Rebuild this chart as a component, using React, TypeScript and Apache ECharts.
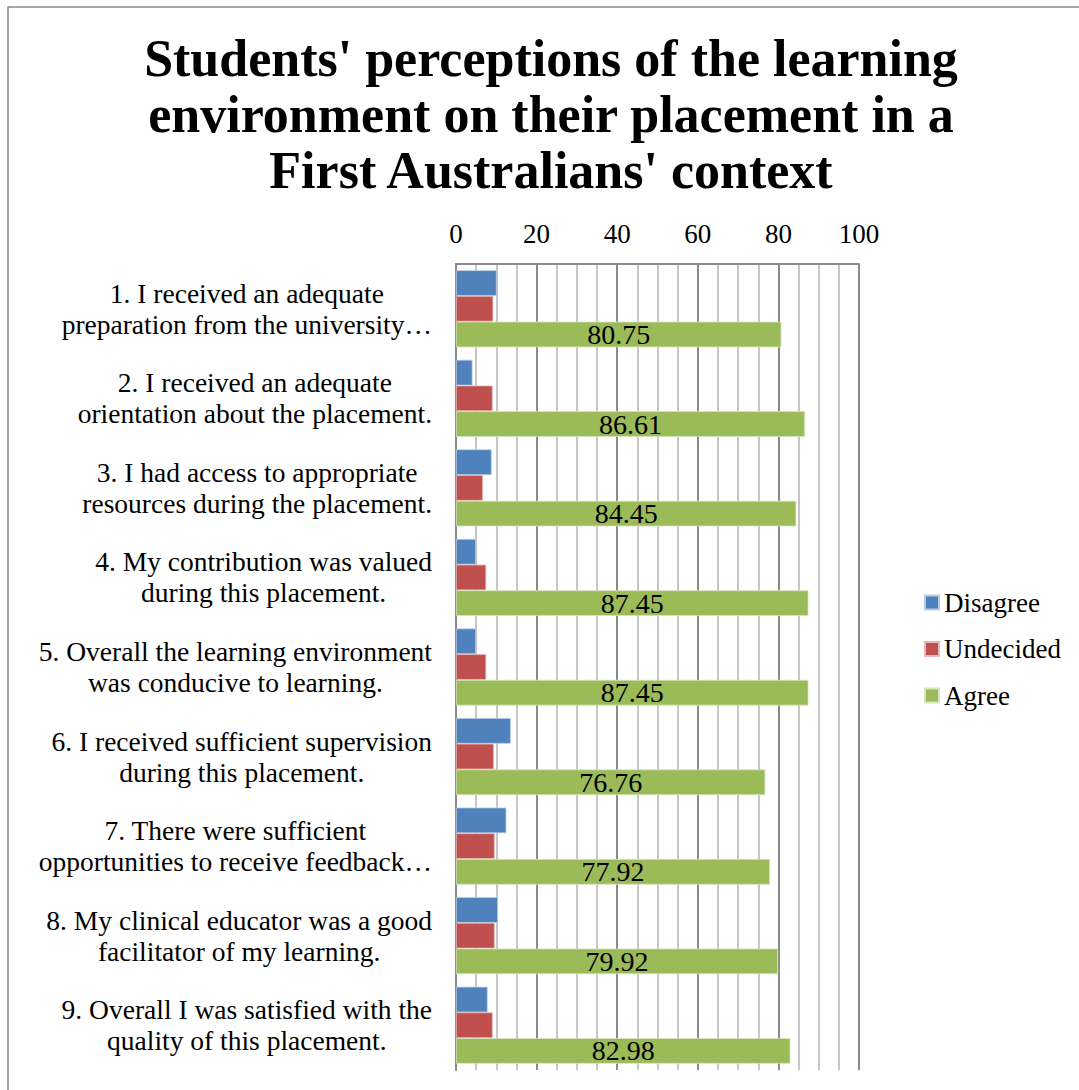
import React, { useEffect, useRef } from "react";
import * as echarts from "echarts";

const categories = [
  "1. I received an adequate\npreparation from the university…",
  "2. I received an adequate\norientation about the placement.",
  "3. I had access to appropriate\nresources during the placement.",
  "4. My contribution was valued\nduring this placement.",
  "5. Overall the learning environment\nwas conducive to learning.",
  "6. I received sufficient supervision\nduring this placement.",
  "7. There were sufficient\nopportunities to receive feedback…",
  "8. My clinical educator was a good\nfacilitator of my learning.",
  "9. Overall I was satisfied with the\nquality of this placement.",
];
const disagree = [10.1, 4.1, 8.85, 4.96, 4.96, 13.6, 12.5, 10.4, 7.85];
const undecided = [9.25, 9.1, 6.7, 7.5, 7.5, 9.4, 9.6, 9.6, 9.1];
const agree = [80.75, 86.61, 84.45, 87.45, 87.45, 76.76, 77.92, 79.92, 82.98];
const seriesNames = ["Disagree", "Undecided", "Agree"];
const titleLines = [
  "Students' perceptions of the learning",
  "environment on their placement in a",
  "First Australians' context",
];

const FONT = "Liberation Serif";

export default function App() {
  const ref = useRef<HTMLDivElement>(null);
  useEffect(() => {
    document.body.style.margin = "0";
    const chart = echarts.init(ref.current!, null, { renderer: "svg" });
    chart.setOption({
      animation: false,
      backgroundColor: "#ffffff",
      textStyle: { fontFamily: FONT },
      title: {
        text: titleLines.join("\n"),
        left: 551,
        top: 30,
        padding: 0,
        textAlign: "center",
        textStyle: {
          fontFamily: FONT,
          fontWeight: "bold",
          fontSize: 52,
          lineHeight: 56,
          color: "#000",
        },
      },
      graphic: [
        {
          type: "rect",
          shape: { x: 8, y: 7, width: 1200, height: 1200 },
          style: { fill: "none", stroke: "#8a8a8a", lineWidth: 1.5 },
          silent: true,
        },
      ],
      legend: {
        orient: "vertical",
        left: 924,
        top: 589,
        padding: 0,
        itemWidth: 14,
        itemHeight: 14,
        itemGap: 19.5,
        icon: "rect",
        data: seriesNames,
        textStyle: { fontFamily: FONT, fontSize: 27, lineHeight: 24, color: "#000" },
      },
      grid: { left: 456, right: 220, top: 264, bottom: 20, containLabel: false },
      xAxis: {
        type: "value",
        position: "top",
        min: 0,
        max: 100,
        interval: 20,
        axisLine: { show: true, lineStyle: { color: "#8a8a8a", width: 2 } },
        axisTick: { show: false },
        axisLabel: { fontFamily: FONT, fontSize: 27, color: "#000", margin: 17 },
        splitLine: { show: true, lineStyle: { color: "#8a8a8a", width: 2 } },
        minorTick: { show: false, splitNumber: 4 },
        minorSplitLine: { show: true, lineStyle: { color: "#c6c6c6", width: 2 } },
      },
      yAxis: {
        type: "category",
        inverse: true,
        data: categories,
        axisLine: { show: true, lineStyle: { color: "#8a8a8a", width: 2 } },
        axisTick: { show: false },
        axisLabel: {
          align: "right",
          margin: 24,
          color: "#000",
          formatter: (v: string) =>
            v
              .split("\n")
              .map((l) => `{c|${l}}`)
              .join("\n"),
          rich: {
            c: { align: "center", fontFamily: FONT, fontSize: 27.5, lineHeight: 31, color: "#000" },
          },
        },
      },
      series: [
        {
          name: seriesNames[0],
          type: "bar",
          data: disagree,
          barWidth: 25.7,
          barGap: "0%",
          itemStyle: { color: "#4F81BD", borderColor: "#b8cce4", borderWidth: 0.8 },
        },
        {
          name: seriesNames[1],
          type: "bar",
          data: undecided,
          barWidth: 25.7,
          barGap: "0%",
          itemStyle: { color: "#C0504D", borderColor: "#e6b9b8", borderWidth: 0.8 },
        },
        {
          name: seriesNames[2],
          type: "bar",
          data: agree,
          barWidth: 25.7,
          barGap: "0%",
          itemStyle: { color: "#9BBB59", borderColor: "#d7e4bd", borderWidth: 0.8 },
          label: {
            show: true,
            position: "inside",
            color: "#000",
            fontFamily: FONT,
            fontSize: 28,
          },
        },
      ],
    });
    return () => chart.dispose();
  }, []);
  return <div ref={ref} style={{ width: 1079, height: 1090 }} />;
}
